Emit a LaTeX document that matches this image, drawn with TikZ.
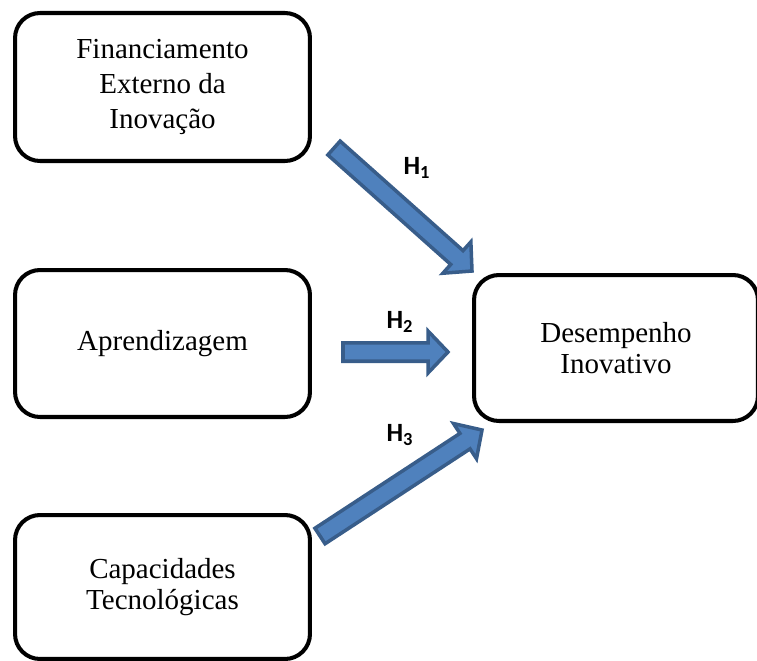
\documentclass[tikz,border=0pt]{standalone}
\usepackage{fontspec}
\setmainfont{Liberation Serif}
\newfontfamily\hfont{Carlito}
\usetikzlibrary{calc}

\definecolor{arrowfill}{RGB}{79,129,189}
\definecolor{arrowline}{RGB}{56,93,138}

\tikzset{
  varbox/.style={draw, line width=2.3pt, rounded corners=0.5cm, align=center,
    font=\fontsize{16.5}{17.5}\selectfont, minimum width=5.9cm},
  hyp/.style={draw=arrowline, fill=arrowfill, line width=2pt, line join=miter},
  hlabel/.style={font=\hfont\bfseries\fontsize{15}{17}\selectfont, inner sep=0pt}
}

\newcommand{\hyparrow}[2]{%
  \draw[hyp] let \p1=($(#2)-(#1)$), \n1={atan2(\y1,\x1)}, \n2={veclen(\x1,\y1)-0.4cm} in
    ($(#1)+(\n1+90:0.185cm)$) -- ($(#1)+(\n1:\n2)+(\n1+90:0.185cm)$)
    -- ($(#1)+(\n1:\n2)+(\n1+90:0.42cm)$) -- (#2)
    -- ($(#1)+(\n1:\n2)+(\n1-90:0.42cm)$) -- ($(#1)+(\n1:\n2)+(\n1-90:0.185cm)$)
    -- ($(#1)+(\n1-90:0.185cm)$) -- cycle;}

\begin{document}
\begin{tikzpicture}[x=0.02cm, y=-0.02cm]

\useasboundingbox (0,0) rectangle (757,660);

\node[varbox, minimum height=2.96cm, font=\fontsize{16.5}{20}\selectfont] (fin) at (162.5,87) {Financiamento\\Externo da\\Inovação};
\node[varbox, minimum height=2.94cm] (apr) at (162.5,343.5) {Aprendizagem};
\node[varbox, minimum height=2.88cm] (cap) at (162.5,587) {Capacidades\\Tecnológicas};

\node[varbox, minimum width=5.68cm, minimum height=2.92cm] (des) at (616,348) {Desempenho\\Inovativo};

\coordinate (t1) at (334,148);
\coordinate (p1) at (472,271);
\coordinate (t2) at (343,352);
\coordinate (p2) at (448,352);
\coordinate (t3) at (320,536);
\coordinate (p3) at (482,430);

\hyparrow{t1}{p1}
\hyparrow{t2}{p2}
\hyparrow{t3}{p3}

\node[hlabel] (h1) at (417,168) {H\textsubscript{1}};
\node[hlabel] (h2) at (400,322) {H\textsubscript{2}};
\node[hlabel] (h3) at (400,435) {H\textsubscript{3}};

\end{tikzpicture}
\end{document}
